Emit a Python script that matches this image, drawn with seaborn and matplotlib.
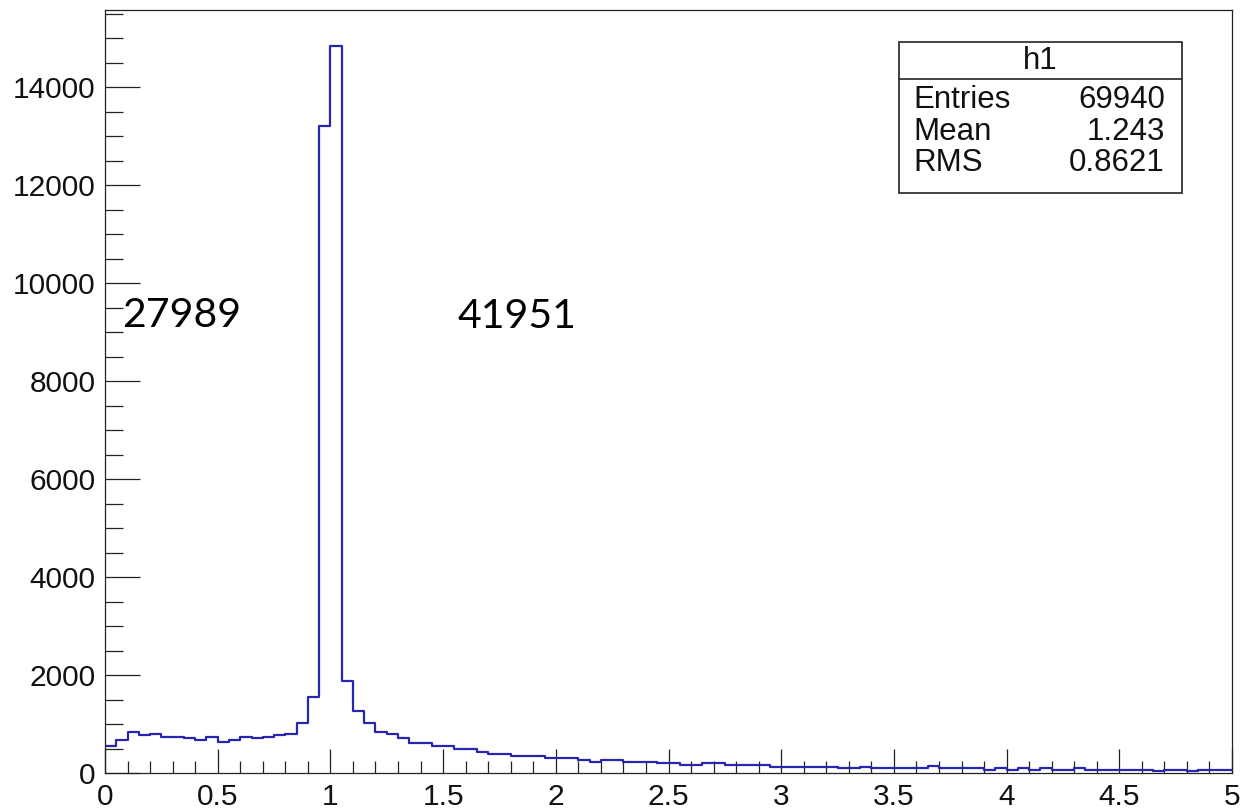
import numpy as np
import pandas as pd
import matplotlib
matplotlib.use("Agg")
import matplotlib.pyplot as plt
from matplotlib.ticker import MultipleLocator, FormatStrFormatter
from matplotlib.patches import Rectangle
from matplotlib.lines import Line2D
import seaborn as sns

# Histogram h1: 100 bins over [0, 5]
x_min, x_max, n_bins = 0.0, 5.0, 100
counts = [
    551, 680, 830, 769, 796, 735, 735, 708, 674, 735,
    640, 680, 735, 708, 742, 776, 803, 1020, 1551, 13200,
    14830, 1871, 1272, 1027, 830, 796, 708, 605, 605, 544,
    544, 490, 490, 422, 390, 390, 354, 354, 354, 299,
    299, 299, 265, 231, 265, 265, 231, 231, 231, 197,
    197, 163, 163, 204, 204, 163, 163, 163, 163, 129,
    129, 129, 129, 129, 129, 95, 95, 129, 102, 102,
    102, 102, 102, 136, 102, 102, 102, 102, 68, 102,
    68, 102, 68, 102, 68, 68, 102, 68, 68, 68,
    68, 68, 68, 34, 68, 68, 34, 68, 68, 68,
]

# Statistics box contents
stats_title = "h1"
stats_names = ["Entries", "Mean", "RMS"]
stats_values = ["69940", "1.243", "0.8621"]

# Counts below and above x = 1
side_labels = ["27989", "41951"]
side_label_x = [0.075, 1.562]
side_label_y = [9100, 9085]

bin_width = (x_max - x_min) / n_bins
centers = x_min + bin_width * (np.arange(n_bins) + 0.5)
df = pd.DataFrame({"x": centers, "n": counts})

sns.set_style("white")
plt.rcParams["font.family"] = ["Liberation Sans", "DejaVu Sans"]

W, H = 1241, 811
fig = plt.figure(figsize=(W / 100, H / 100), dpi=100)
ax = fig.add_axes([105 / W, 1 - 773 / H, (1232 - 105) / W, (773 - 10) / H])

sns.histplot(data=df, x="x", weights="n", binwidth=bin_width,
             binrange=(x_min, x_max), element="step", fill=False,
             color="#2626b0", linewidth=1.6, ax=ax)

ax.set_xlim(x_min, x_max)
ax.set_ylim(0, 1.05 * max(counts))
ax.set_xlabel("")
ax.set_ylabel("")

for s in ax.spines.values():
    s.set_visible(True)
    s.set_color("#222222")
    s.set_linewidth(0.9)

ax.xaxis.set_major_locator(MultipleLocator(0.5))
ax.xaxis.set_minor_locator(MultipleLocator(0.1))
ax.yaxis.set_major_locator(MultipleLocator(2000))
ax.yaxis.set_minor_locator(MultipleLocator(500))
ax.xaxis.set_major_formatter(FormatStrFormatter("%g"))

ax.tick_params(axis="both", which="both", direction="in", colors="#222222",
               width=0.9, labelsize=21.5, labelcolor="#111111",
               bottom=True, left=True, top=False, right=False)
ax.tick_params(axis="x", which="major", length=17.5, pad=7)
ax.tick_params(axis="x", which="minor", length=9)
ax.tick_params(axis="y", which="major", length=25, pad=7)
ax.tick_params(axis="y", which="minor", length=13)

# Side count labels
for txt, tx, ty in zip(side_labels, side_label_x, side_label_y):
    ax.text(tx, ty, txt, fontsize=29.5, family=["Lato", "DejaVu Sans"],
            color="black", ha="left", va="baseline")

# Statistics box
bl, br = 899 / W, 1181.5 / W
bt, bb = 1 - 41.7 / H, 1 - 193.3 / H
sep = 1 - 79 / H
fig.patches.append(Rectangle((bl, bb), br - bl, bt - bb, transform=fig.transFigure,
                             fill=True, facecolor="white", edgecolor="#222222",
                             linewidth=1.2, zorder=5))
fig.lines.append(Line2D([bl, br], [sep, sep], transform=fig.transFigure,
                        color="#222222", linewidth=1.2, zorder=6))
fig.text((bl + br) / 2, 1 - 61 / H, stats_title, ha="center", va="center",
         fontsize=22.5, color="#111111", zorder=7)
row_y = [100, 131.5, 163]
for name, val, ry in zip(stats_names, stats_values, row_y):
    fig.text(913 / W, 1 - ry / H, name, ha="left", va="center",
             fontsize=22.5, color="#111111", zorder=7)
    fig.text(1165 / W, 1 - ry / H, val, ha="right", va="center",
             fontsize=22.5, color="#111111", zorder=7)

fig.savefig("out.png", dpi=100, facecolor="white")
